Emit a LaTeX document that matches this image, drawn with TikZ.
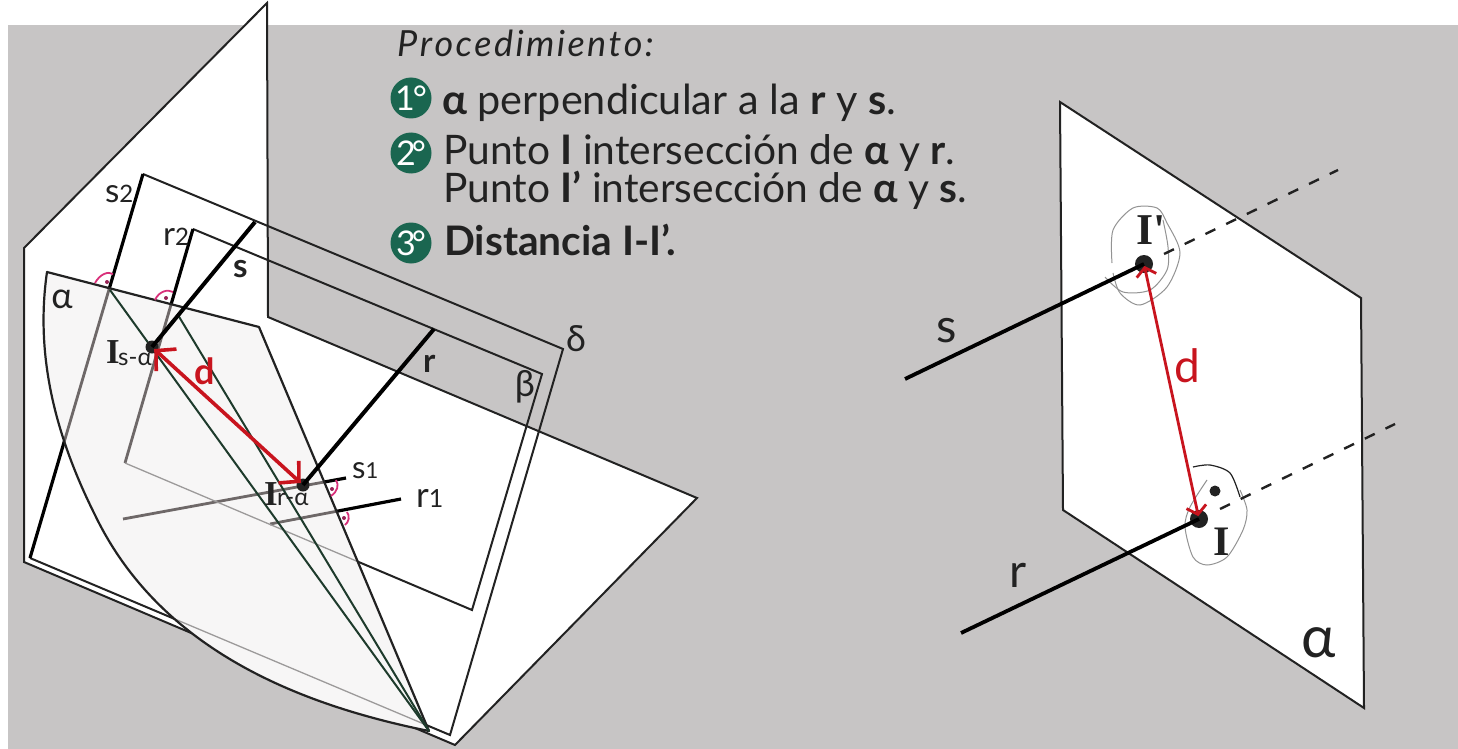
\documentclass[tikz,border=0pt]{standalone}
\usepackage{fontspec}
\setmainfont{Lato}
\newfontfamily\slabfont{Liberation Serif}
\usetikzlibrary{arrows.meta}
\definecolor{bggray}{HTML}{C7C5C5}
\definecolor{alphafill}{HTML}{F7F6F6}
\definecolor{dkgreen}{HTML}{1E3B2C}
\definecolor{badge}{HTML}{1A6650}
\definecolor{redd}{HTML}{C8141E}
\definecolor{pinkm}{HTML}{D9307A}
\definecolor{ink}{HTML}{222222}
\definecolor{undertrace}{HTML}{6E6868}
\definecolor{underplane}{HTML}{9C9A9A}
\tikzset{
  planeline/.style={draw=ink,line width=2pt,line join=miter},
  trace/.style={draw=black,line width=3.2pt},
  mainline/.style={draw=black,line width=4pt},
  greenline/.style={draw=dkgreen,line width=2pt},
  rightmark/.style={draw=pinkm,line width=1.8pt},
  markdot/.style={circle,fill=pinkm!70!black,inner sep=0pt,minimum size=4pt},
  pointdot/.style={circle,fill=ink,inner sep=0pt},
  redarrow/.style={draw=redd,line width=3.6pt,shorten <=3pt,shorten >=3pt,{Straight Barb[length=14pt,width=30pt]}-{Straight Barb[length=14pt,width=30pt]}},
  redarrowb/.style={draw=redd,line width=2.8pt,shorten <=2pt,shorten >=3pt,{Straight Barb[length=8pt,width=20pt]}-{Straight Barb[length=8pt,width=20pt]}},
  lab/.style={inner sep=0pt,text=ink},
  baselab/.style={inner sep=0pt,text=ink,anchor=base west},
  steptext/.style={inner sep=0pt,anchor=base west,text=ink,font=\fontsize{40.7}{44}\selectfont},
  badgenode/.style={circle,fill=badge,inner sep=0pt,minimum size=41pt,text=white,font=\fontsize{34}{34}\selectfont},
  sketch/.style={draw=gray!85,line width=1pt},
  dashline/.style={draw=ink,line width=2.4pt,dash pattern=on 11pt off 12pt},
}
\newcommand{\slabI}[1][35]{{\slabfont\bfseries\fontsize{#1}{#1}\selectfont I}}
\begin{document}
\begin{tikzpicture}[x=1pt,y=-1pt]
\useasboundingbox (0,0) rectangle (1458,749);
\fill[white] (0,0) rectangle (1458,749);
\fill[bggray] (8,25) rectangle (1458,749);
% left figure: vertical and horizontal plane
\coordinate (pa) at (24,248); \coordinate (pb) at (267,3); \coordinate (pc) at (268,317);
\coordinate (pd) at (697,498); \coordinate (pe) at (455,745); \coordinate (pf) at (24,562);
\filldraw[fill=white,planeline] (pa) -- (pb) -- (pc) -- (pd) -- (pe) -- (pf) -- cycle;
% delta
\coordinate (da) at (143,174); \coordinate (db) at (563,349); \coordinate (dc) at (450,735); \coordinate (dd) at (30,558);
\draw[planeline] (da) -- (db) -- (dc) -- (dd);
\draw[trace] (da) -- (dd);
% beta
\coordinate (ba) at (193,229); \coordinate (bb) at (542,374); \coordinate (bc) at (472,610); \coordinate (bd) at (125,463);
\draw[planeline] (ba) -- (bb) -- (bc) -- (bd);
\draw[trace] (ba) -- (bd);
% traces 1
\coordinate (sa) at (123,519); \coordinate (sb) at (346,478);
\coordinate (ra) at (270,524); \coordinate (rb) at (401,499);
\draw[trace] (sa) -- (sb);
\draw[trace] (ra) -- (rb);
% alpha
\coordinate (aa) at (47,272); \coordinate (ab) at (259,327); \coordinate (ac) at (429,731);
\fill[alphafill] (aa) -- (ab) -- (ac) .. controls (300,705) and (160,650) .. (95,515) .. controls (55,435) and (35,355) .. (aa) -- cycle;
\begin{scope}
\clip (aa) -- (ab) -- (ac) .. controls (300,705) and (160,650) .. (95,515) .. controls (55,435) and (35,355) .. (aa) -- cycle;
\draw[draw=undertrace,line width=2.8pt] (da) -- (dd);
\draw[draw=undertrace,line width=2.8pt] (ba) -- (bd);
\draw[draw=undertrace,line width=2.8pt] (sa) -- (sb);
\draw[draw=undertrace,line width=2.8pt] (ra) -- (rb);
\draw[draw=underplane,line width=1.3pt] (bc) -- (bd);
\draw[draw=underplane,line width=1.3pt] (dc) -- (dd);
\end{scope}
\draw[draw=ink,line width=2.2pt,line join=round] (aa) -- (ab) -- (ac) .. controls (300,705) and (160,650) .. (95,515) .. controls (55,435) and (35,355) .. (aa) -- cycle;
% intersection lines
\coordinate (ga) at (110,290); \coordinate (gb) at (178,315);
\draw[greenline] (ga) -- (ac);
\draw[greenline] (gb) -- (ac);
% lines s, r
\node[pointdot,minimum size=13pt] (is) at (152,347) {};
\node[pointdot,minimum size=13pt] (ir) at (303,485) {};
\coordinate (st) at (255,222); \coordinate (rt) at (434,329);
\draw[mainline] (st) -- (is.center);
\draw[mainline] (rt) -- (ir.center);
\draw[redarrow] (is.center) -- (ir.center);
% right angle marks
\draw[rightmark] (95,283) .. controls (100,274) and (108,271) .. (113,274);
\node[markdot] (m1) at (107,282) {};
\draw[rightmark] (155,300) .. controls (159,291) and (168,289) .. (173,292);
\node[markdot] (m2) at (166,298) {};
\draw[rightmark] (336,480) .. controls (339,485) and (338,491) .. (331,496);
\node[markdot] (m3) at (332,489) {};
\draw[rightmark] (347,512) .. controls (350,516) and (349,522) .. (345,525);
\node[markdot] (m4) at (344,518) {};
% labels left
\node[baselab,font=\fontsize{33}{33}\selectfont] (l1) at (105,202) {s\fontsize{24}{24}\selectfont 2};
\node[baselab,font=\fontsize{33}{33}\selectfont] (l2) at (163,245) {r\fontsize{24}{24}\selectfont 2};
\node[lab,font=\fontsize{36}{36}\selectfont] (l3) at (62,299) {α};
\node[baselab,font=\bfseries\fontsize{33}{33}\selectfont] (l4) at (233,277) {s};
\node[baselab,font=\bfseries\fontsize{33}{33}\selectfont] (l5) at (423,372) {r};
\node[lab,font=\fontsize{36}{36}\selectfont] (l6) at (576,339) {δ};
\node[lab,font=\fontsize{36}{36}\selectfont] (l7) at (525,387) {β};
\node[lab,text=redd,font=\fontsize{36}{36}\selectfont\bfseries] (l8) at (205,371) {d};
\node[inner sep=0pt,text=ink,anchor=base] (l9) at (113,363) {\slabI};
\node[baselab,font=\fontsize{24}{24}\selectfont] (l10) at (118,365) {s-α};
\node[inner sep=0pt,text=ink,anchor=base] (l11) at (271,505) {\slabI};
\node[baselab,font=\fontsize{24}{24}\selectfont] (l12) at (277,505) {r-α};
\node[baselab,font=\fontsize{31}{31}\selectfont] (l13) at (352,478) {s\fontsize{22}{22}\selectfont 1};
\node[baselab,font=\fontsize{35}{35}\selectfont] (l14) at (416,507) {r\fontsize{25}{25}\selectfont 1};
% procedure text
\node[steptext,font=\itshape\fontsize{36}{38}\selectfont] (p0) at (397,57) {P\kern2.4pt r\kern2.4pt o\kern2.4pt c\kern2.4pt e\kern2.4pt d\kern2.4pt i\kern2.4pt m\kern2.4pt i\kern2.4pt e\kern2.4pt n\kern2.4pt t\kern2.4pt o\kern2.4pt :};
\node[badgenode] (b1) at (411,98) {1\kern-2pt°};
\node[badgenode] (b2) at (411,153) {2\kern-4pt°};
\node[badgenode] (b3) at (411,243) {3\kern-4pt°};
\node[steptext,font=\fontsize{41.4}{44}\selectfont] (p1) at (442,115) {\textbf{α} perpendicular a la \textbf{r} y \textbf{s}.};
\node[steptext] (p2) at (443,164) {Punto \textbf{I} intersección de \textbf{α} y \textbf{r}.};
\node[steptext] (p3) at (443,202) {Punto \textbf{I'} intersección de \textbf{α} y \textbf{s}.};
\node[steptext,font=\bfseries\fontsize{40.7}{44}\selectfont] (p4) at (444,255) {Distancia I-I'.};
% right figure
\coordinate (qa) at (1060,102); \coordinate (qb) at (1361,298); \coordinate (qc) at (1364,708); \coordinate (qd) at (1063,510);
\filldraw[fill=white,planeline] (qa) -- (qb) -- (qc) -- (qd) -- cycle;
\draw[sketch] plot[smooth] coordinates {(1112,263) (1113,230) (1133,208) (1157,208) (1167,223) (1180,253) (1167,287) (1140,305) (1120,293) (1113,273)};
\draw[sketch] plot[smooth] coordinates {(1105,277) (1123,292) (1150,290) (1167,270) (1168,247) (1163,220)};
\draw[sketch] plot[smooth] coordinates {(1207,480) (1190,507) (1185,527) (1193,557) (1207,565) (1227,557) (1243,530) (1247,510) (1240,490)};
\draw[draw=ink,line width=1.2pt] plot[smooth] coordinates {(1193,467) (1210,465) (1230,473) (1240,497)};
\node[pointdot,minimum size=18pt] (ip) at (1144,264) {};
\node[pointdot,minimum size=18pt] (ii) at (1199,519) {};
\node[pointdot,minimum size=11pt] (smalld) at (1215,491) {};
\coordinate (se) at (905,379); \coordinate (re) at (961,633);
\coordinate (sd) at (1338,170); \coordinate (rd) at (1395,424);
\coordinate (sf) at (1164,254); \coordinate (rf) at (1220,509);
\draw[trace,line width=3.8pt] (se) -- (ip.center);
\draw[trace,line width=3.8pt] (re) -- (ii.center);
\draw[dashline] (sf) -- (sd);
\draw[dashline] (rf) -- (rd);
\draw[redarrowb] (ip.center) -- (ii.center);
\node[inner sep=0pt,text=ink,anchor=base west] (i1) at (1136,244) {{\slabfont\bfseries\fontsize{44}{44}\selectfont I'}};
\node[inner sep=0pt,text=ink,anchor=base] (i2) at (1222,555) {\slabI[42]};
\node[lab,text=redd,font=\fontsize{46}{46}\selectfont] (d2) at (1187,366) {d};
\node[baselab,font=\fontsize{47}{47}\selectfont] (s2) at (936,342) {s};
\node[baselab,font=\fontsize{47}{47}\selectfont] (r2) at (1009,587) {r};
\node[lab,font=\fontsize{58}{58}\selectfont] (a2) at (1319,643) {α};
\end{tikzpicture}
\end{document}
